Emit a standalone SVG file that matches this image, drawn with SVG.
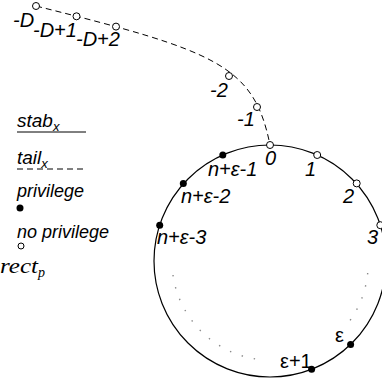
<svg xmlns="http://www.w3.org/2000/svg" width="382" height="385" viewBox="0 0 382 385">
<style>
text{font-family:"Liberation Sans",Arial,sans-serif;font-style:italic;font-size:20px;fill:#000}
.lg{font-size:18px}
.up{font-style:normal}
.math{font-family:"Liberation Serif","Times New Roman",serif;font-size:22px}
.open{fill:#fff;stroke:#000;stroke-width:1}
.full{fill:#000}
.ring{fill:none;stroke:#000;stroke-width:1.2}
.tail{fill:none;stroke:#000;stroke-width:1;stroke-dasharray:6 4}
.dots{fill:none;stroke:#888;stroke-width:1.4;stroke-dasharray:1.4 11}
</style>
<rect width="382" height="385" fill="#fff"/>
<g id="legend">
  <text x="17" y="127" style="font-size:19px">stab<tspan font-size="13" dy="4">x</tspan></text>
  <line x1="17" y1="132" x2="86" y2="132" stroke="#000" stroke-width="1"/>
  <text x="17" y="164" style="font-size:19px">tail<tspan font-size="13" dy="4">x</tspan></text>
  <line x1="17" y1="169" x2="86" y2="169" stroke="#000" stroke-width="1" stroke-dasharray="6 4"/>
  <text class="lg" x="17" y="197">privilege</text>
  <circle class="full" cx="20" cy="208" r="3.5"/>
  <text class="lg" x="17" y="238">no privilege</text>
  <circle class="open" cx="21" cy="246" r="3"/>
  <text class="math" x="0" y="273"><tspan textLength="38" lengthAdjust="spacingAndGlyphs">rect</tspan><tspan font-size="14" dy="4">p</tspan></text>
</g>
<g id="connectors">
  <circle class="ring" cx="270" cy="261" r="116"/>
  <path class="tail" d="M36,6 C216,51 254,65 270,145"/>
  <path class="dots" d="M173,275 A99,99 0 0,0 265,360"/>
  <path class="dots" d="M367.7,273 A99,99 0 0,1 346.7,325"/>
</g>
<g id="tail-nodes">
  <g id="n-D"><circle class="open" cx="36" cy="6" r="3.5"/><text x="13" y="27">-D</text></g>
  <g id="n-D1"><circle class="open" cx="76.5" cy="16.3" r="3.5"/><text x="33" y="37">-D+1</text></g>
  <g id="n-D2"><circle class="open" cx="116" cy="26.6" r="3.5"/><text x="76" y="46">-D+2</text></g>
  <g id="n-m2"><circle class="open" cx="229" cy="76" r="3.5"/><text x="210" y="97">-2</text></g>
  <g id="n-m1"><circle class="open" cx="257" cy="107" r="3.5"/><text x="237" y="126">-1</text></g>
</g>
<g id="ring-nodes">
  <g id="n0"><circle class="open" cx="270" cy="145" r="3.5"/><text x="265" y="165">0</text></g>
  <g id="n1"><circle class="open" cx="317.2" cy="155" r="3.5"/><text x="305" y="176">1</text></g>
  <g id="n2"><circle class="open" cx="356.7" cy="183.4" r="3.5"/><text x="343" y="203">2</text></g>
  <g id="n3"><circle class="open" cx="380.3" cy="225.2" r="3.5"/><text x="367" y="244">3</text></g>
  <g id="ne1"><circle class="full" cx="222.8" cy="155" r="3.5"/><text x="208" y="176">n+ε-1</text></g>
  <g id="ne2"><circle class="full" cx="183.3" cy="183.4" r="3.5"/><text x="181" y="203">n+ε-2</text></g>
  <g id="ne3"><circle class="full" cx="159.7" cy="225.2" r="3.5"/><text x="157" y="244">n+ε-3</text></g>
  <g id="neps"><circle class="full" cx="350.6" cy="344.4" r="3.5"/><text class="up" x="335" y="342">ε</text></g>
  <g id="neps1"><circle class="full" cx="311.6" cy="369.3" r="3.5"/><text class="up" x="280" y="368">ε+1</text></g>
</g>
</svg>
